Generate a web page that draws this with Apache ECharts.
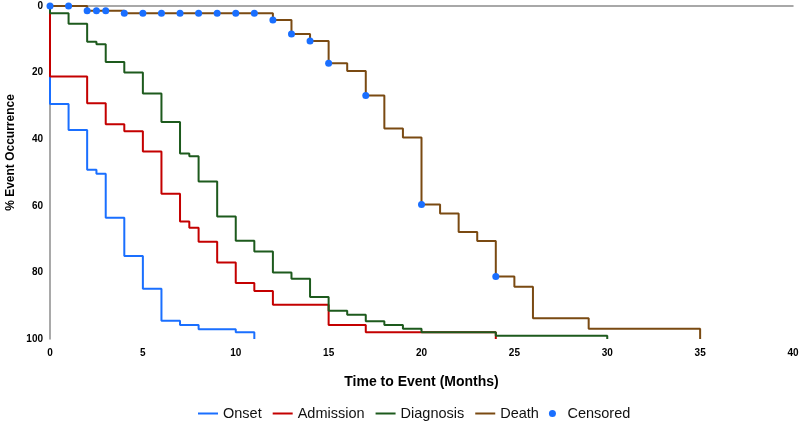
<!DOCTYPE html>
<html>
<head>
<meta charset="utf-8">
<script src="https://cdn.jsdelivr.net/npm/echarts@6/dist/echarts.min.js"></script>
<style>html,body{margin:0;padding:0;background:#fff}#c{width:800px;height:423px}</style>
</head>
<body>
<div id="c"></div>
<script>
// time (months), % event occurrence after the step
var onset = [[0,0],[0,29.4],[1,37.2],[2,49.2],[2.5,50.4],[3,63.6],[4,75.1],[5,84.9],[6,94.5],[7,95.8],[8,97.1],[10,98.0],[11,100]];
var admission = [[0,0],[0,21.2],[2,29.2],[3,35.5],[4,37.6],[5,43.7],[6,56.4],[7,64.7],[7.5,66.6],[8,70.8],[9,77.0],[10,83.2],[11,85.6],[12,89.7],[15,95.8],[17,98.0],[24,100]];
var diagnosis = [[0,0],[0,2.2],[1,5.3],[2,10.7],[2.5,11.5],[3,16.8],[4,20.0],[5,26.3],[6,34.8],[7,44.3],[7.5,45.1],[8,52.7],[9,63.2],[10,70.5],[11,73.7],[12,80.0],[13,81.9],[14,87.4],[15,91.5],[16,92.7],[17,94.7],[18,95.8],[19,96.9],[20,98.0],[24,99.0],[30,100]];
var death = [[0,0],[2,1.4],[4,2.2],[12,4.2],[13,8.4],[14,10.5],[15,17.2],[16,19.5],[17,26.9],[18,36.8],[19,39.5],[20,59.6],[21,62.3],[22,67.9],[23,70.6],[24,81.2],[25,84.3],[26,93.8],[29,96.9],[35,100]];
var censored = [[0,0],[1,0],[2,1.4],[2.5,1.4],[3,1.4],[4,2.2],[5,2.2],[6,2.2],[7,2.2],[8,2.2],[9,2.2],[10,2.2],[11,2.2],[12,4.2],[13,8.4],[14,10.5],[15,17.2],[17,26.9],[20,59.6],[24,81.2]];
var seriesNames = ['Onset','Admission','Diagnosis','Death','Censored'];
var colors = ['#1a6fff','#c40000','#1d5a1d','#7a4a12','#1a6fff'];

var chart = echarts.init(document.getElementById('c'));
function stepLine(name, data, color){
  return {name:name, type:'line', step:'end', data:data, symbol:'none',
    lineStyle:{color:color, width:2}, itemStyle:{color:color}, animation:false};
}
var hideSym = {opacity:0};
chart.setOption({
  animation:false,
  textStyle:{fontFamily:'Liberation Sans, Arial, sans-serif'},
  grid:{left:50, right:7, top:6, bottom:84, containLabel:false, outerBoundsMode:'none'},
  legend:{
    bottom:-3, left:192, itemWidth:20, itemHeight:7, itemGap:10,
    textStyle:{fontSize:14.5, color:'#111', fontFamily:'Liberation Sans, Arial, sans-serif'},
    data:[
      {name:'Onset', itemStyle:hideSym},{name:'Admission', itemStyle:hideSym},
      {name:'Diagnosis', itemStyle:hideSym},{name:'Death', itemStyle:hideSym},
      {name:'Censored', icon:'circle'}
    ]
  },
  xAxis:{
    type:'value', min:0, max:40, interval:5,
    name:'Time to Event (Months)', nameLocation:'middle', nameGap:36,
    nameTextStyle:{fontSize:14, fontWeight:'bold', color:'#000'},
    axisLine:{show:true, lineStyle:{color:'#8c8c8c', width:1.5}},
    axisTick:{show:false}, splitLine:{show:false},
    axisLabel:{fontSize:10, fontWeight:'bold', color:'#000', margin:9}
  },
  yAxis:{
    type:'value', min:0, max:100, interval:20, inverse:true,
    name:'% Event Occurrence', nameLocation:'middle', nameGap:33, nameRotate:90,
    nameMoveOverlap:false,
    nameTextStyle:{fontSize:12, fontWeight:'bold', color:'#000', padding:[0,0,0,40]},
    axisLine:{show:true, lineStyle:{color:'#8c8c8c', width:1.5}},
    axisTick:{show:false}, splitLine:{show:false},
    axisLabel:{fontSize:10, fontWeight:'bold', color:'#000', margin:7}
  },
  series:[
    stepLine(seriesNames[0], onset, colors[0]),
    stepLine(seriesNames[1], admission, colors[1]),
    stepLine(seriesNames[2], diagnosis, colors[2]),
    stepLine(seriesNames[3], death, colors[3]),
    {name:seriesNames[4], type:'scatter', data:censored, symbol:'circle', symbolSize:7,
      itemStyle:{color:colors[4], opacity:1}, z:5}
  ]
});
</script>
</body>
</html>
